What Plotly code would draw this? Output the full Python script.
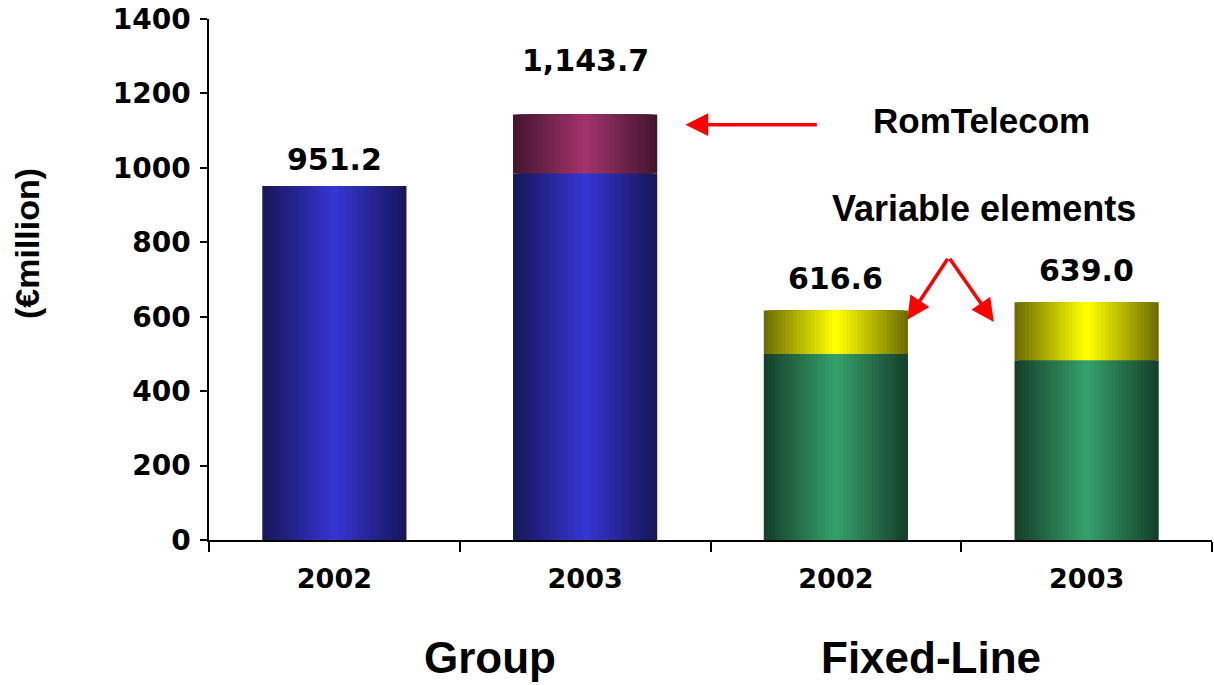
import plotly.graph_objects as go

# ---- data ----
categories = ["Group 2002", "Group 2003", "Fixed-Line 2002", "Fixed-Line 2003"]
tick_labels = ["2002", "2003", "2002", "2003"]
group_labels = ["Group", "Fixed-Line"]
base_values = [951.2, 985.0, 500.0, 483.0]      # core part of each bar
top_values = [0.0, 158.7, 116.6, 156.0]          # RomTelecom / Variable elements
total_labels = ["951.2", "1,143.7", "616.6", "639.0"]
y_ticks = [0, 200, 400, 600, 800, 1000, 1200, 1400]

# ---- styles ----
base_dark = ["#17175a", "#17175a", "#16402a", "#16402a"]
base_light = ["#3535d0", "#3535d0", "#35a06a", "#35a06a"]
top_dark = ["#451530", "#451530", "#6e6e00", "#6e6e00"]
top_light = ["#a0336a", "#a0336a", "#ffff00", "#ffff00"]
label_shift = [7, 34, 13, 12]
BAR_W = 0.575
N_LAYERS = 20


def hex2rgb(h):
    h = h.lstrip("#")
    return tuple(int(h[i:i + 2], 16) for i in (0, 2, 4))


def lerp(c1, c2, t):
    a, b = hex2rgb(c1), hex2rgb(c2)
    return "rgb(%d,%d,%d)" % tuple(round(a[i] + (b[i] - a[i]) * t) for i in range(3))


fig = go.Figure()
totals = [b + t for b, t in zip(base_values, top_values)]
for k in range(N_LAYERS):
    t = k / (N_LAYERS - 1)
    w = BAR_W * (1 - k / N_LAYERS)
    fig.add_trace(go.Bar(
        x=categories, y=base_values, base=[0] * 4, width=[w] * 4,
        marker=dict(color=[lerp(d, l, t) for d, l in zip(base_dark, base_light)], line=dict(width=0)),
        showlegend=False, hoverinfo="skip"))
    fig.add_trace(go.Bar(
        x=categories, y=top_values, base=base_values, width=[w] * 4,
        marker=dict(color=[lerp(d, l, t) for d, l in zip(top_dark, top_light)], line=dict(width=0)),
        showlegend=False, hoverinfo="skip"))

num_font = dict(family="DejaVu Sans", size=30, color="black", weight="bold")
ytick_font = dict(family="DejaVu Sans", size=28, color="black", weight="bold")
label_font = "Liberation Sans"

for i, (cat, tot, lab) in enumerate(zip(categories, totals, total_labels)):
    fig.add_annotation(x=cat, y=tot, text=lab, showarrow=False, yanchor="bottom",
                       yshift=label_shift[i], font=num_font)

# group labels
for xpos, g in zip([0.62, 2.38], group_labels):
    fig.add_annotation(x=xpos, xref="x", y=-0.225, yref="paper", text=g, showarrow=False,
                       xanchor="center", yanchor="middle",
                       font=dict(family=label_font, size=44, color="black", weight="bold"))

# y-axis title
fig.add_annotation(x=-0.1815, xref="paper", y=0.57, yref="paper", text="(€million)",
                   textangle=-90, showarrow=False, xanchor="center", yanchor="middle",
                   font=dict(family=label_font, size=34, color="black", weight="bold"))

# callouts
fig.add_annotation(x=2.58, y=1128, text="RomTelecom", showarrow=False,
                   font=dict(family=label_font, size=35, color="black", weight="bold"))
fig.add_annotation(x=1.40, y=1116, ax=1.93, ay=1116, axref="x", ayref="y",
                   showarrow=True, arrowhead=2, arrowsize=1.3, arrowwidth=3.5, arrowcolor="red", text="")
fig.add_annotation(x=2.59, y=890, text="Variable elements", showarrow=False,
                   font=dict(family=label_font, size=36, color="black", weight="bold"))
fig.add_annotation(x=2.285, y=592, ax=2.45, ay=760, axref="x", ayref="y",
                   showarrow=True, arrowhead=2, arrowsize=1.3, arrowwidth=3.5, arrowcolor="red", text="")
fig.add_annotation(x=2.63, y=586, ax=2.45, ay=760, axref="x", ayref="y",
                   showarrow=True, arrowhead=2, arrowsize=1.3, arrowwidth=3.5, arrowcolor="red", text="")

fig.update_layout(
    width=1214, height=685,
    margin=dict(l=209, r=2, t=19, b=145),
    barmode="overlay",
    plot_bgcolor="white", paper_bgcolor="white",
    showlegend=False,
    xaxis=dict(type="category", categoryarray=categories, tickmode="array",
               tickvals=categories, ticktext=tick_labels, tickson="boundaries",
               ticks="outside", ticklen=10, tickwidth=1.5, tickcolor="black",
               showline=True, linecolor="black", linewidth=1.5, showgrid=False,
               ticklabelstandoff=14, automargin=False, ticklabeloverflow="allow",
               tickfont=dict(family="DejaVu Sans", size=27, color="black", weight="bold"),
               range=[-0.5, 3.5], fixedrange=True),
    yaxis=dict(range=[0, 1400], tickvals=y_ticks, ticks="outside", ticklen=7,
               tickwidth=1.5, tickcolor="black", showline=True, linecolor="black",
               linewidth=1.5, showgrid=False, zeroline=False, ticklabelstandoff=4,
               automargin=False, ticklabeloverflow="allow", tickfont=ytick_font,
               fixedrange=True),
)

fig.write_html("out.html", config={"displayModeBar": False},
               post_script="document.body.style.margin='0';document.body.style.overflow='hidden';")
